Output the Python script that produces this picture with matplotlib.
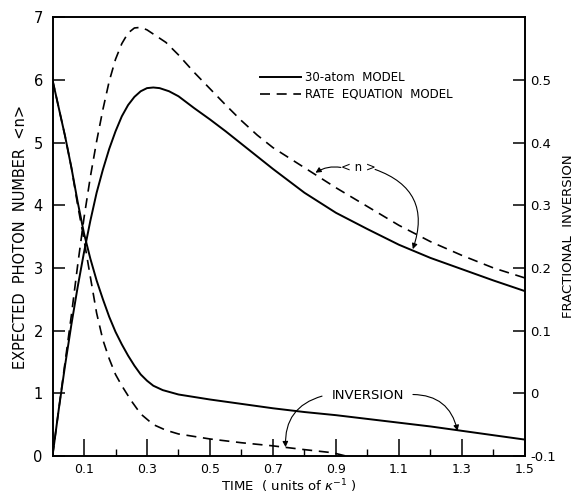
import matplotlib
matplotlib.use('Agg')
import matplotlib.pyplot as plt

plt.rcParams['font.family'] = ['DejaVu Sans']
plt.rcParams['axes.unicode_minus'] = False

# photon number <n>
t_n = [0.0, 0.02, 0.04, 0.06, 0.08, 0.10, 0.12, 0.14, 0.16, 0.18, 0.20, 0.22,
       0.24, 0.26, 0.28, 0.30, 0.32, 0.34, 0.37, 0.40, 0.45, 0.50, 0.55, 0.60,
       0.65, 0.70, 0.80, 0.90, 1.00, 1.10, 1.20, 1.30, 1.40, 1.50]
n_atom = [0.0, 0.75, 1.45, 2.1, 2.7, 3.25, 3.75, 4.2, 4.57, 4.9, 5.18, 5.42,
          5.6, 5.73, 5.82, 5.87, 5.88, 5.87, 5.82, 5.74, 5.55, 5.37, 5.18, 4.98,
          4.78, 4.58, 4.2, 3.88, 3.62, 3.37, 3.16, 2.98, 2.8, 2.63]

t_r = [0.0, 0.02, 0.04, 0.06, 0.08, 0.10, 0.12, 0.14, 0.16, 0.18, 0.20, 0.22,
       0.24, 0.26, 0.28, 0.30, 0.33, 0.36, 0.40, 0.45, 0.50, 0.55, 0.60, 0.65,
       0.70, 0.80, 0.90, 1.00, 1.10, 1.20, 1.30, 1.40, 1.50]
n_rate = [0.0, 0.75, 1.5, 2.25, 3.05, 3.8, 4.45, 5.02, 5.53, 5.98, 6.33, 6.58,
          6.75, 6.83, 6.84, 6.8, 6.7, 6.6, 6.4, 6.12, 5.86, 5.6, 5.35, 5.12,
          4.92, 4.6, 4.28, 3.98, 3.68, 3.42, 3.2, 3.0, 2.84]

# fractional inversion
t_i = [0.0, 0.02, 0.04, 0.06, 0.08, 0.10, 0.12, 0.14, 0.16, 0.18, 0.20, 0.22,
       0.24, 0.26, 0.28, 0.30, 0.32, 0.35, 0.40, 0.50, 0.60, 0.70, 0.80, 0.90,
       1.00, 1.10, 1.20, 1.30, 1.40, 1.50]
inv_atom = [0.5, 0.455, 0.41, 0.36, 0.305, 0.255, 0.215, 0.18, 0.15, 0.122,
            0.098, 0.078, 0.06, 0.044, 0.03, 0.02, 0.012, 0.005, -0.002, -0.01,
            -0.017, -0.024, -0.03, -0.035, -0.041, -0.047, -0.053, -0.06,
            -0.067, -0.074]

t_ir = [0.0, 0.02, 0.04, 0.06, 0.08, 0.10, 0.12, 0.14, 0.16, 0.18, 0.20, 0.22,
        0.25, 0.28, 0.32, 0.36, 0.40, 0.50, 0.60, 0.70, 0.80, 0.89, 0.93]
inv_rate = [0.5, 0.455, 0.41, 0.36, 0.30, 0.245, 0.186, 0.128, 0.085, 0.055,
            0.03, 0.012, -0.012, -0.033, -0.05, -0.059, -0.065, -0.073, -0.079,
            -0.084, -0.09, -0.095, -0.1]

x_major = [0.1, 0.3, 0.5, 0.7, 0.9, 1.1, 1.3, 1.5]
x_minor = [0.2, 0.4, 0.6, 0.8, 1.0, 1.2, 1.4]
left_ticks = [0, 1, 2, 3, 4, 5, 6, 7]
right_ticks = [-0.1, 0, 0.1, 0.2, 0.3, 0.4, 0.5]
right_labels = ['-0.1', '0', '0.1', '0.2', '0.3', '0.4', '0.5']

dash = (0, (6, 4))

fig = plt.figure(figsize=(5.74, 4.95), dpi=100)
ax = fig.add_axes([0.0915, 0.079, 0.823, 0.886])
ax2 = ax.twinx()

l1, = ax.plot(t_n, n_atom, color='k', lw=1.4, label='30-atom  MODEL')
l2, = ax.plot(t_r, n_rate, color='k', lw=1.2, linestyle=dash,
              label='RATE  EQUATION  MODEL')
ax2.plot(t_i, inv_atom, color='k', lw=1.4)
ax2.plot(t_ir, inv_rate, color='k', lw=1.2, linestyle=dash)

ax.set_xlim(0, 1.5)
ax.set_ylim(0, 7)
ax2.set_ylim(-0.1, 0.6)

ax.set_xticks(x_major)
ax.set_xticklabels([str(v) for v in x_major])
ax.set_xticks(x_minor, minor=True)
ax.set_yticks(left_ticks)
ax2.set_yticks(right_ticks)
ax2.set_yticklabels(right_labels)

ax.tick_params(axis='x', which='major', direction='in', length=12, width=1.1,
               labelsize=9, pad=5)
ax.tick_params(axis='x', which='minor', direction='in', length=5, width=1.0)
ax.tick_params(axis='y', direction='in', length=8.5, width=1.1,
               labelsize=10.5, pad=7)
ax2.tick_params(axis='y', direction='in', length=8.5, width=1.1,
                labelsize=9.5, pad=4)
for a in (ax, ax2):
    for s in a.spines.values():
        s.set_linewidth(1.2)

ax.set_ylabel('EXPECTED  PHOTON  NUMBER  <n>', fontsize=10.5, labelpad=4)
ax2.set_ylabel('FRACTIONAL  INVERSION', fontsize=9.5, labelpad=4)
ax.set_xlabel(r'TIME  ( units of $\kappa^{-1}$ )', fontsize=9.5, labelpad=1)

ax.legend(handles=[l1, l2], loc='upper left', bbox_to_anchor=(0.43, 0.888),
          frameon=False, fontsize=8.5, handlelength=3.4, handletextpad=0.4,
          labelspacing=0.3, borderaxespad=0)

arrow = dict(arrowstyle='-|>', color='k', lw=0.8, mutation_scale=8,
             shrinkA=1, shrinkB=0)

ax.text(0.97, 4.6, '< n >', fontsize=8.5, ha='center', va='center')
ax.annotate('', xy=(0.835, 4.52), xytext=(0.92, 4.6),
            arrowprops=dict(arrow, connectionstyle='arc3,rad=0.2'))
ax.annotate('', xy=(1.144, 3.3), xytext=(1.02, 4.58),
            arrowprops=dict(arrow, connectionstyle='arc3,rad=-0.5'))

ax.text(1.0, 0.97, 'INVERSION', fontsize=9.5, ha='center', va='center')
ax.annotate('', xy=(0.74, 0.14), xytext=(0.86, 0.96),
            arrowprops=dict(arrow, connectionstyle='arc3,rad=0.4'))
ax.annotate('', xy=(1.286, 0.4), xytext=(1.14, 0.98),
            arrowprops=dict(arrow, connectionstyle='arc3,rad=-0.4'))

fig.savefig('out.png', dpi=100)
